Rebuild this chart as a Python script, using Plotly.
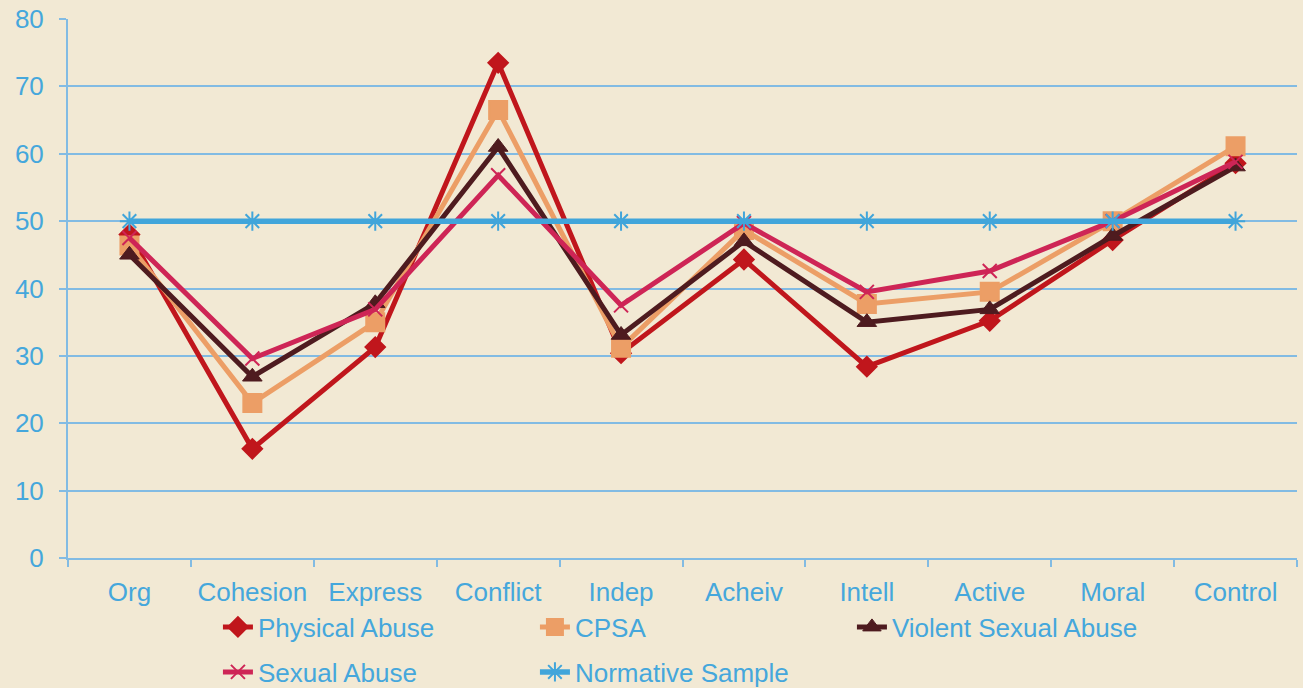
import plotly.graph_objects as go

categories = ["Org", "Cohesion", "Express", "Conflict", "Indep", "Acheiv", "Intell", "Active", "Moral", "Control"]
physical_abuse = [48.0, 16.2, 31.3, 73.5, 30.4, 44.3, 28.4, 35.2, 47.2, 58.6]
cpsa = [46.4, 23.0, 35.0, 66.5, 31.2, 48.7, 37.7, 39.5, 50.0, 61.1]
violent_sexual_abuse = [45.0, 26.9, 37.8, 61.0, 33.1, 47.0, 35.0, 36.9, 47.8, 58.1]
sexual_abuse = [47.5, 29.6, 36.9, 56.8, 37.5, 49.7, 39.5, 42.6, 50.0, 58.8]
normative_sample = [50, 50, 50, 50, 50, 50, 50, 50, 50, 50]
y_ticks = [0, 10, 20, 30, 40, 50, 60, 70, 80]

TEXT = "#45A7DC"
GRID = "#82BBE3"
BG = "#F2E9D4"
FONT = "Liberation Sans, Arial, sans-serif"
FS = 26

series = [
    ("Physical Abuse", physical_abuse, "#C0161C", "diamond", 15, 5, 2, "legend"),
    ("CPSA", cpsa, "#EC9E66", "square", 18, 5, 2, "legend"),
    ("Violent Sexual Abuse", violent_sexual_abuse, "#4E1B1F", "triangle-up", 17, 5, 1, "legend"),
    ("Sexual Abuse", sexual_abuse, "#CE2556", "x-thin-open", 14, 5, 2, "legend2"),
    ("Normative Sample", normative_sample, "#41A5DA", "asterisk-open", 16, 5.5, 2, "legend2"),
]

fig = go.Figure()
for name, vals, color, sym, size, lw, mlw, leg in series:
    fig.add_trace(go.Scatter(
        x=categories, y=vals, name=name, mode="lines+markers",
        line=dict(color=color, width=lw),
        marker=dict(symbol=sym, size=size, color=color,
                    line=dict(color=color, width=mlw)),
        legend=leg,
    ))

legend_common = dict(
    orientation="h", x=0.122, xanchor="left",
    yref="container", yanchor="middle",
    entrywidth=272, entrywidthmode="pixels",
    font=dict(family=FONT, size=FS, color=TEXT),
    bgcolor="rgba(0,0,0,0)",
)

fig.update_layout(
    template="none",
    width=1303, height=688,
    margin=dict(l=68, r=6, t=19, b=130, autoexpand=False),
    paper_bgcolor=BG, plot_bgcolor=BG,
    font=dict(family=FONT, size=FS, color=TEXT),
    showlegend=True,
    legend=dict(y=1 - 627 / 688, **legend_common),
    legend2=dict(y=1 - 672 / 688, **legend_common),
    xaxis=dict(
        type="category", tickson="boundaries",
        ticks="outside", ticklen=7, tickcolor=GRID, tickwidth=2,
        showline=True, linecolor=GRID, linewidth=2,
        showgrid=False, zeroline=False, automargin=False,
        tickfont=dict(size=FS, color=TEXT),
        ticklabelstandoff=10,
        range=[-0.5, 9.5],
    ),
    yaxis=dict(
        range=[0, 80], tickvals=y_ticks,
        ticks="outside", ticklen=7, tickcolor=GRID, tickwidth=2,
        showline=True, linecolor=GRID, linewidth=2,
        showgrid=True, gridcolor=GRID, gridwidth=2,
        zeroline=False, automargin=False,
        tickfont=dict(size=FS, color=TEXT),
        ticklabelstandoff=10,
    ),
)

fig.write_html(
    "out.html",
    config={"displayModeBar": False},
    post_script="document.body.style.margin='0';document.body.style.overflow='hidden';",
)
